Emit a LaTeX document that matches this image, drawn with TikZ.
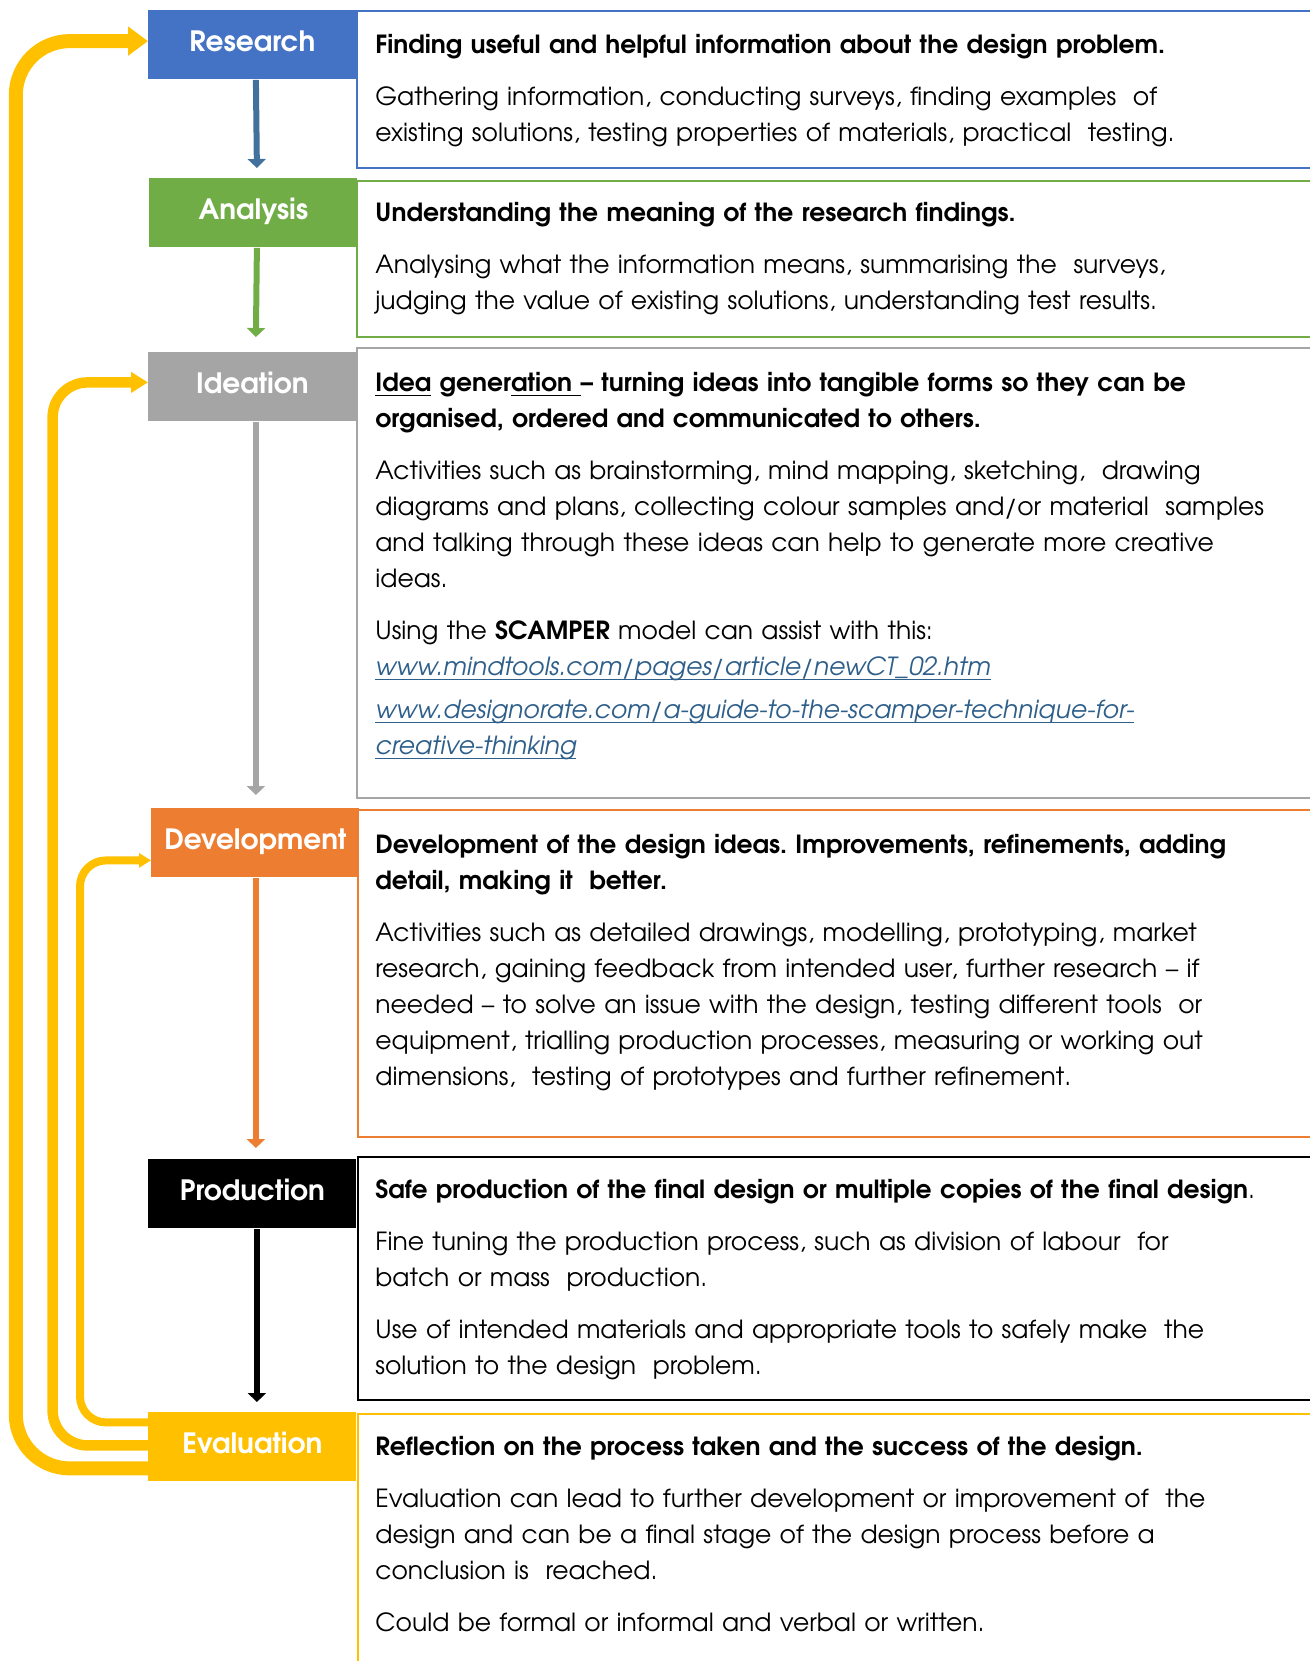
\documentclass[tikz,border=0pt]{standalone}
\usepackage{fontspec}
\setmainfont{TeX Gyre Adventor}
\usetikzlibrary{arrows.meta,positioning}
\definecolor{resblue}{HTML}{4472C4}
\definecolor{resarrow}{HTML}{41719C}
\definecolor{anagreen}{HTML}{70AD47}
\definecolor{ideagrey}{HTML}{A5A5A5}
\definecolor{devorange}{HTML}{ED7D31}
\definecolor{evalyellow}{HTML}{FFC000}
\definecolor{linkblue}{HTML}{2E5F8A}
\tikzset{>=Triangle}
\frenchspacing
\newcommand{\myul}[1]{\leavevmode\setbox0\hbox{#1}\rlap{\rule[-2.3pt]{\wd0}{0.7pt}}\box0\relax}

\begin{document}
\begin{tikzpicture}[x=0.5pt, y=-0.5pt,
	stage/.style={anchor=north west, inner sep=0pt, minimum width=104pt, minimum height=34.5pt, text depth=4pt, text=white, font=\fontsize{14}{17}\selectfont\bfseries},
	descbox/.style={anchor=north west, draw=#1, line width=0.75pt, minimum width=490pt, inner sep=0pt},
	desc/.style={inner sep=0pt, text width=480pt, align=left, font=\fontsize{12.5}{18}\selectfont},
	flow/.style={line width=3pt, -{Triangle[width=9pt,length=4.5pt]}},
	back/.style={evalyellow, rounded corners=#1}]
	\useasboundingbox (0,0) rectangle (1310,1661);
	\clip (0,0) rectangle (1310,1661);

	% boxes on the right
	\node[descbox=resblue, minimum height=78.5pt] (researchbox) at (356,10) {};
	\node[descbox=anagreen, minimum height=78pt] (analysisbox) at (356,180) {};
	\node[descbox=ideagrey, minimum height=225pt] (ideationbox) at (356,347) {};
	\node[descbox=devorange, minimum height=163.5pt] (developmentbox) at (357,809) {};
	\node[descbox=black, minimum height=121.5pt] (productionbox) at (357,1156) {};
	\node[descbox=evalyellow, minimum height=140pt] (evaluationbox) at (357,1413) {};

	% stage headers
	\node[stage, fill=resblue] (research) at (148,10) {Research};
	\node[stage, fill=anagreen] (analysis) at (149,178) {Analysis};
	\node[stage, fill=ideagrey] (ideation) at (148,352) {Ideation};
	\node[stage, fill=devorange] (development) at (151,808) {Development};
	\node[stage, fill=black] (production) at (148,1159) {Production};
	\node[stage, fill=evalyellow] (evaluation) at (148,1412) {Evaluation};

	% texts
	\node[desc, below right=8.75pt and 9.5pt of researchbox.north west] (researchtxt) {\strut\textbf{Finding useful and helpful information about the design problem.}\\[8pt]
		Gathering information, conducting surveys, finding examples~ of\\
		existing solutions, testing properties of materials, practical~ testing.};
	\node[desc, below right=8pt and 9.5pt of analysisbox.north west] (analysistxt) {\strut\textbf{Understanding the meaning of the research findings.}\\[8pt]
		Analysing what the information means, summarising the~ surveys,\\
		judging the value of existing solutions, understanding test results.};
	\node[desc, below right=9.5pt and 9.5pt of ideationbox.north west] (ideationtxt) {\strut\textbf{\myul{Idea} gener\myul{ation~}– turning ideas into tangible forms so they can be}\\
		\textbf{organised, ordered and communicated to others.}\\[8pt]
		Activities such as brainstorming, mind mapping, sketching,~ drawing\\
		diagrams and plans, collecting colour samples and/or material~ samples\\
		and talking through these ideas can help to generate more creative\\
		ideas.\\[8pt]
		Using the \textbf{SCAMPER} model can assist with this:\\
		{\color{linkblue}\itshape\myul{www.mindtools.com/pages/article/newCT\_02.htm}}\\[3.5pt]
		{\color{linkblue}\itshape\myul{www.designorate.com/a-guide-to-the-scamper-technique-for-}}\\
		{\color{linkblue}\itshape\myul{creative-thinking}}};
	\node[desc, below right=9.5pt and 9pt of developmentbox.north west] (developmenttxt) {\strut\textbf{Development of the design ideas. Improvements, refinements, adding}\\
		\textbf{detail, making it~ better.}\\[8pt]
		Activities such as detailed drawings, modelling, prototyping, market\\
		research, gaining feedback from intended user, further research – if\\
		needed – to solve an issue with the design, testing different tools~ or\\
		equipment, trialling production processes, measuring or working out\\
		dimensions,~ testing of prototypes and further refinement.};
	\node[desc, below right=8.5pt and 9pt of productionbox.north west] (productiontxt) {\strut\textbf{Safe production of the final design or multiple copies of the final design}.\\[8pt]
		Fine tuning the production process, such as division of labour~ for\\
		batch or mass~ production.\\[8pt]
		Use of intended materials and appropriate tools to safely make~ the\\
		solution to the design~ problem.};
	\node[desc, below right=8.5pt and 9pt of evaluationbox.north west] (evaluationtxt) {\strut\textbf{Reflection on the process taken and the success of the design.}\\[8pt]
		Evaluation can lead to further development or improvement of~ the\\
		design and can be a final stage of the design process before a\\
		conclusion is~ reached.\\[8pt]
		Could be formal or informal and verbal or written.};

	% arrows down the stages
	\draw[flow, resarrow] ([xshift=1.75pt]research.south) -- ([xshift=1.75pt, yshift=5pt]analysis.north);
	\draw[flow, anagreen] ([xshift=1.75pt]analysis.south) -- ([xshift=1.75pt, yshift=7.5pt]ideation.north);
	\draw[flow, ideagrey] ([xshift=1.75pt]ideation.south) -- ([xshift=0.25pt, yshift=6.5pt]development.north);
	\draw[flow, devorange] ([xshift=0.25pt]development.south) -- ([xshift=1.75pt, yshift=5.5pt]production.north);
	\draw[flow, black] ([xshift=2.25pt]production.south) -- ([xshift=2.25pt, yshift=5pt]evaluation.north);

	% loops back from evaluation
	\draw[back=27pt, line width=7pt, -{Triangle[width=14pt,length=10pt]}] ([yshift=-10.75pt]evaluation.west) -- ++(-132.2,0) |- ([yshift=1.9pt]research.west);
	\draw[back=17.5pt, line width=5.25pt, -{Triangle[width=10pt,length=8.5pt]}] ([yshift=0.75pt]evaluation.west) -- ++(-95.4,0) |- ([yshift=2.25pt]ideation.west);
	\draw[back=13pt, line width=4pt, -{Triangle[width=7pt,length=6pt]}] ([yshift=12.25pt]evaluation.west) -- ++(-68,0) |- ([yshift=-8.75pt]development.west);
\end{tikzpicture}
\end{document}
